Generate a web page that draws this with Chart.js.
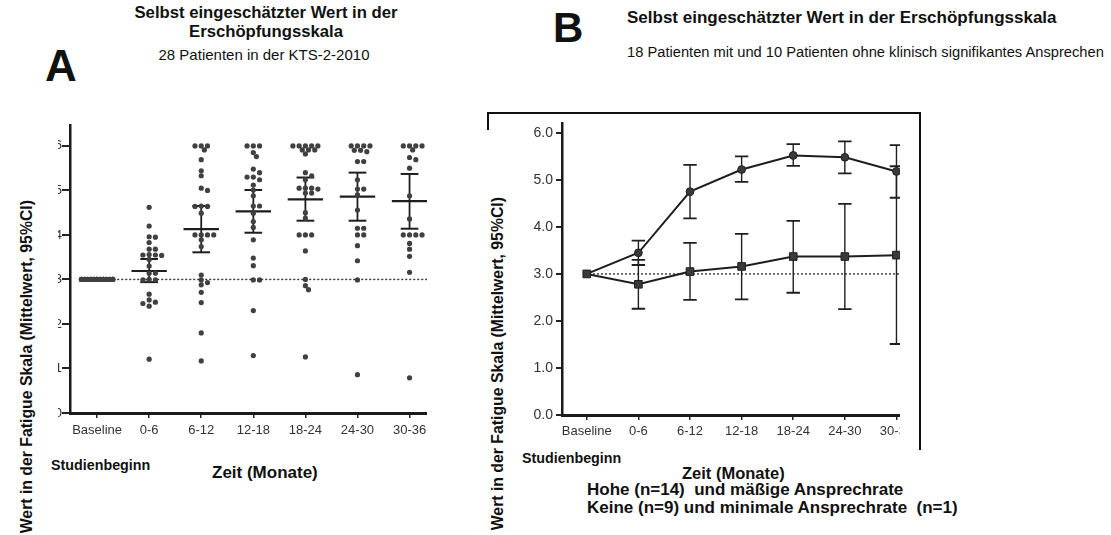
<!DOCTYPE html>
<html>
<head>
<meta charset="utf-8">
<script src="https://cdn.jsdelivr.net/npm/chart.js@4.4.1/dist/chart.umd.min.js"></script>
<style>
body { margin:0; width:1111px; height:535px; overflow:hidden; background:#fff; position:relative;
       font-family:"Liberation Sans", Arial, sans-serif; color:#111; }
.t { position:absolute; white-space:nowrap; line-height:1; }
.b { font-weight:bold; }
.c { transform:translateX(-50%); }
.clip { position:absolute; top:0; height:535px; overflow:hidden; }
.clip canvas { position:absolute; }
.ytitle { position:absolute; writing-mode:vertical-rl; transform:rotate(180deg); font-weight:bold;
          white-space:nowrap; line-height:1; font-size:15.8px; }
.rule { position:absolute; background:#111; }
</style>
</head>
<body>
<div class="t b" style="left:45px; top:44px; font-size:44px;">A</div>
<div class="t b c" style="left:266px; top:5px; font-size:16.7px;">Selbst eingeschätzter Wert in der</div>
<div class="t b c" style="left:266px; top:24px; font-size:16.7px;">Erschöpfungsskala</div>
<div class="t c" style="left:264px; top:47px; font-size:15px;">28 Patienten in der KTS-2-2010</div>

<div class="t b" style="left:553px; top:7px; font-size:42px;">B</div>
<div class="t b" style="left:627px; top:9px; font-size:17px;">Selbst eingeschätzter Wert in der Erschöpfungsskala</div>
<div class="t" style="left:627px; top:45px; font-size:14.7px;">18 Patienten mit und 10 Patienten ohne klinisch signifikantes Ansprechen</div>

<div class="ytitle" style="left:19px; top:200px;">Wert in der Fatigue Skala (Mittelwert, 95%CI)</div>
<div class="ytitle" style="left:490px; top:197px;">Wert in der Fatigue Skala (Mittelwert, 95%CI)</div>

<div class="clip" style="left:58px; width:369px;"><canvas id="chartA" width="419" height="343" style="left:-27px; top:100px;"></canvas></div>
<div class="clip" style="left:500px; width:400px;"><canvas id="chartB" width="429" height="345" style="left:10px; top:100px;"></canvas></div>

<div class="rule" style="left:487px; top:112px; width:434px; height:2px;"></div>
<div class="rule" style="left:487px; top:112px; width:2px; height:18px;"></div>
<div class="rule" style="left:919px; top:112px; width:2px; height:338px;"></div>

<div class="t b" style="left:51px; top:458px; font-size:14.3px;">Studienbeginn</div>
<div class="t b" style="left:212px; top:464px; font-size:17px;">Zeit (Monate)</div>
<div class="t b" style="left:522px; top:451px; font-size:14.3px;">Studienbeginn</div>
<div class="t b" style="left:682px; top:465px; font-size:16.5px;">Zeit (Monate)</div>
<div class="t b" style="left:587px; top:481px; font-size:17px;">Hohe (n=14)&nbsp; und mäßige Ansprechrate</div>
<div class="t b" style="left:587px; top:499px; font-size:17px;">Keine (n=9) und minimale Ansprechrate&nbsp; (n=1)</div>

<script>
Chart.defaults.font.family = '"Liberation Sans", Arial, sans-serif';
Chart.defaults.color = '#2a2a2a';

const categories = ['Baseline', '0-6', '6-12', '12-18', '18-24', '24-30', '30-36'];

// Panel A - single patient values per interval
const dotsBaseline = [3, 3, 3, 3, 3, 3, 3, 3, 3, 3, 3, 3, 3, 3, 3, 3, 3, 3, 3, 3, 3, 3, 3, 3, 3, 3, 3, 3];
const dots0to6 = [4.62, 4.20, 3.96, 3.95, 3.83, 3.68, 3.68, 3.56, 3.55, 3.55, 3.54, 3.45, 3.30, 3.14, 3.14,
                  3.00, 2.99, 2.99, 2.67, 2.54, 2.49, 2.46, 2.40, 1.21];
const dots6to12 = [6.00, 6.00, 6.00, 5.91, 5.69, 5.44, 5.33, 5.05, 5.00, 4.65, 4.64, 4.64, 4.49, 4.00, 4.00,
                   4.00, 4.00, 3.89, 3.74, 3.10, 2.99, 2.93, 2.88, 2.71, 2.48, 1.80, 1.17];
const dots12to18 = [6.00, 6.00, 6.00, 5.85, 5.76, 5.48, 5.40, 5.30, 5.30, 5.24, 5.12, 5.01, 4.88, 4.65, 4.65,
                    4.49, 4.30, 4.17, 3.89, 3.48, 3.31, 2.99, 2.99, 2.30, 1.29];
const dots18to24 = [6.00, 6.00, 6.00, 6.00, 6.00, 5.91, 5.91, 5.91, 5.82, 5.40, 5.33, 5.24, 5.05, 5.05, 5.05,
                    5.03, 4.94, 4.94, 4.50, 4.38, 4.00, 4.00, 4.00, 3.64, 3.00, 2.86, 2.77, 1.26];
const dots24to30 = [6.00, 6.00, 6.00, 6.00, 5.90, 5.87, 5.90, 5.65, 5.65, 5.24, 5.03, 5.03, 4.90, 4.56, 4.15,
                    4.15, 4.00, 4.00, 3.76, 3.42, 2.99, 0.86];
const dots30to36 = [6.00, 6.00, 6.00, 6.00, 5.91, 5.74, 5.69, 5.50, 4.88, 4.36, 4.00, 4.00, 4.00, 4.00, 3.81,
                    3.68, 3.52, 3.16, 0.79];
const meanA = [null, 3.19, 4.13, 4.53, 4.80, 4.86, 4.76];
const ciLowA = [null, 2.94, 3.61, 4.05, 4.32, 4.32, 4.14];
const ciHighA = [null, 3.46, 4.65, 5.01, 5.29, 5.40, 5.37];

// Panel B - mean and 95% CI per group
const hoheMean = [3.00, 3.45, 4.75, 5.22, 5.52, 5.48, 5.18];
const hoheLow = [null, 3.19, 4.18, 4.96, 5.30, 5.14, 4.62];
const hoheHigh = [null, 3.71, 5.32, 5.50, 5.76, 5.82, 5.74];
const keineMean = [3.00, 2.78, 3.05, 3.16, 3.37, 3.37, 3.40];
const keineLow = [null, 2.26, 2.45, 2.46, 2.60, 2.25, 1.51];
const keineHigh = [null, 3.30, 3.66, 3.85, 4.13, 4.49, 5.29];

const yTicksA = [0, 1, 2, 3, 4, 5, 6];
const yTicksB = [0, 1, 2, 3, 4, 5, 6];

// simple beeswarm so equal values sit side by side (px per unit: x 52, y 44.5)
// columns are kept narrow, crowded rows just overlap like in the scan
function swarm(values, i) {
    const pts = [];
    values.slice().sort((a, b) => b - a).forEach(v => {
        let best = 0, bestScore = Infinity;
        for (let k = 0; k <= 5 && bestScore > 0; k++) {
            for (const s of (k ? [1, -1] : [1])) {
                const off = s * k * 0.06;
                let score = 0;
                pts.forEach(p => {
                    const d = Math.hypot((p.x - i - off) * 52, (p.y - v) * 44.5);
                    if (d < 4.8) score += 4.8 - d;
                });
                if (score < bestScore) { best = off; bestScore = score; }
                if (score === 0) break;
            }
        }
        pts.push({x: i + best, y: v});
    });
    return pts;
}

function seg(x1, y1, x2, y2, w) {
    return {data: [{x: x1, y: y1}, {x: x2, y: y2}], showLine: true, borderColor: '#1e1e1e',
            borderWidth: w, pointRadius: 0};
}

function dotted(x1) {
    return {data: [{x: x1, y: 3}, {x: 6.7, y: 3}], showLine: true, borderColor: '#333',
            borderWidth: 1.4, borderDash: [2, 2], pointRadius: 0};
}

function scales(xmin, ymax, yWidth, yTickLen, yFont, yPad, yFmt, yTicks, xPad) {
    return {
        x: {
            type: 'linear', min: xmin, max: 6.7,
            afterBuildTicks: s => { s.ticks = categories.map((c, i) => ({value: i})); },
            afterFit: s => { s.height = 30; },
            ticks: {callback: v => categories[v], font: {size: 13}, color: '#333', padding: xPad,
                    autoSkip: false, maxRotation: 0},
            grid: {drawOnChartArea: false, tickLength: 5, color: '#222', lineWidth: 1.5},
            border: {color: '#1a1a1a', width: 3}
        },
        y: {
            min: 0, max: ymax,
            afterBuildTicks: s => { s.ticks = yTicks.map(v => ({value: v})); },
            afterFit: s => { s.width = yWidth; },
            ticks: {callback: yFmt, font: {size: yFont}, color: '#333', padding: yPad},
            grid: {drawOnChartArea: false, tickLength: yTickLen, color: '#222', lineWidth: 2},
            border: {color: '#1a1a1a', width: 2.5}
        }
    };
}

const baseOptions = {
    responsive: false, animation: false, devicePixelRatio: 1, events: [],
    plugins: {legend: {display: false}, tooltip: {enabled: false}}
};

// ---- Panel A
const dotsA = [dotsBaseline, dots0to6, dots6to12, dots12to18, dots18to24, dots24to30, dots30to36];
const datasetsA = [];
dotsA.forEach((vals, i) => datasetsA.push({data: swarm(vals, i), pointRadius: 2.6,
    backgroundColor: '#404040', borderWidth: 0}));
meanA.forEach((m, i) => {
    if (m === null) return;
    datasetsA.push(seg(i - 0.34, m, i + 0.34, m, 2.2));
    datasetsA.push(seg(i, ciLowA[i], i, ciHighA[i], 1.8));
    datasetsA.push(seg(i - 0.17, ciLowA[i], i + 0.17, ciLowA[i], 2));
    datasetsA.push(seg(i - 0.17, ciHighA[i], i + 0.17, ciHighA[i], 2));
});
datasetsA.push(dotted(0.31));

new Chart(document.getElementById('chartA'), {
    type: 'scatter',
    data: {datasets: datasetsA},
    options: Object.assign({}, baseOptions, {
        layout: {padding: {top: 25, right: 4, left: 0, bottom: 0}},
        scales: scales(-0.52, 6.47, 39, 8, 13, 0, v => String(v), yTicksA, 5)
    })
});

// ---- Panel B
const datasetsB = [
    {data: keineMean.map((v, i) => ({x: i, y: v})), showLine: true, borderColor: '#1e1e1e', borderWidth: 2,
     pointStyle: 'rect', pointRadius: 5.4, backgroundColor: '#3a3a3a', pointBorderColor: '#1e1e1e', pointBorderWidth: 1},
    {data: hoheMean.map((v, i) => ({x: i, y: v})), showLine: true, borderColor: '#1e1e1e', borderWidth: 2,
     pointStyle: 'circle', pointRadius: ctx => ctx.dataIndex === 0 ? 0 : 3.9, backgroundColor: '#3a3a3a',
     pointBorderColor: '#1e1e1e', pointBorderWidth: 1}
];
[[hoheLow, hoheHigh], [keineLow, keineHigh]].forEach(([lo, hi]) => {
    lo.forEach((l, i) => {
        if (l === null) return;
        datasetsB.push(seg(i, l, i, hi[i], 1.4));
        datasetsB.push(seg(i - 0.13, l, i + 0.13, l, 1.8));
        datasetsB.push(seg(i - 0.13, hi[i], i + 0.13, hi[i], 1.8));
    });
});
datasetsB.push(dotted(0.12));

new Chart(document.getElementById('chartB'), {
    type: 'scatter',
    data: {datasets: datasetsB},
    options: Object.assign({}, baseOptions, {
        layout: {padding: {top: 23, right: 4, left: 0, bottom: 0}},
        scales: scales(-0.48, 6.21, 52, 6, 14, 3, v => v.toFixed(1), yTicksB, 4)
    })
});
</script>
</body>
</html>
